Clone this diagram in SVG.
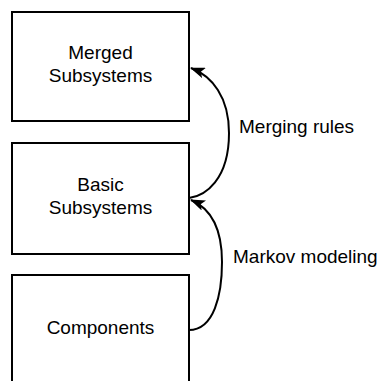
<svg xmlns="http://www.w3.org/2000/svg" width="382" height="381" viewBox="0 0 382 381">
  <style>
    .box { fill: #ffffff; stroke: #000000; stroke-width: 2; }
    .node-text { font-family: "Liberation Sans", Arial, sans-serif; font-size: 19px; fill: #000000; text-anchor: middle; }
    .edge { fill: none; stroke: #000000; stroke-width: 2; }
    .edge-label { font-family: "Liberation Sans", Arial, sans-serif; font-size: 19px; fill: #000000; }
  </style>
  <defs>
    <marker id="arrow" markerUnits="userSpaceOnUse" viewBox="0 0 15 11" refX="14" refY="5.5" markerWidth="15" markerHeight="11" orient="auto">
      <path d="M0,0 L15,5.5 L0,11 L3.5,5.5 Z" fill="#000000"/>
    </marker>
  </defs>
  <rect width="382" height="381" fill="#ffffff"/>

  <g id="merged-subsystems">
    <rect class="box" x="12" y="12" width="177" height="109"/>
    <text class="node-text" x="100.5" y="59">Merged</text>
    <text class="node-text" x="100.5" y="82">Subsystems</text>
  </g>

  <g id="basic-subsystems">
    <rect class="box" x="12" y="143" width="177" height="111"/>
    <text class="node-text" x="100.5" y="190.5">Basic</text>
    <text class="node-text" x="100.5" y="213.5">Subsystems</text>
  </g>

  <g id="components">
    <rect class="box" x="12" y="275" width="177" height="120"/>
    <text class="node-text" x="100.5" y="334">Components</text>
  </g>

  <g id="connectors">
    <path class="edge" marker-end="url(#arrow)" d="M189,198 C205,196 229,180 229,133 C229,97 212,76 191,68"/>
    <text class="edge-label" x="239" y="132.5">Merging rules</text>
    <path class="edge" marker-end="url(#arrow)" d="M189,330 C214,330 222,295 222,262 C222,230 212,209 191,200"/>
    <text class="edge-label" x="233" y="263">Markov modeling</text>
  </g>
</svg>
